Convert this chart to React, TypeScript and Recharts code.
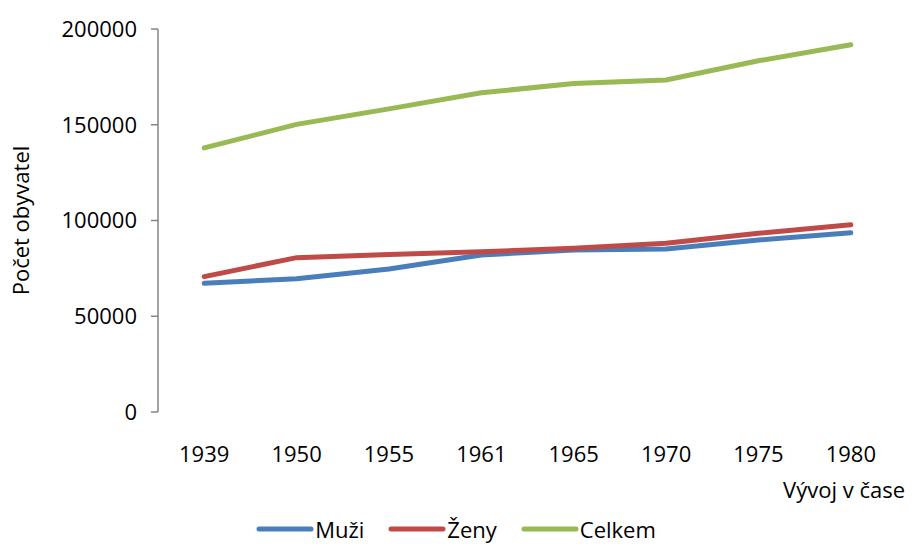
import React from 'react';
import { LineChart, Line, XAxis, YAxis, Legend } from 'recharts';

const years = ['1939', '1950', '1955', '1961', '1965', '1970', '1975', '1980'];
const muzi = [67200, 69600, 74700, 82000, 84600, 85100, 89800, 93600];
const zeny = [70700, 80600, 82300, 83700, 85500, 88100, 93300, 97800];
const celkem = [137900, 150200, 158300, 166700, 171500, 173400, 183400, 191800];

const yTicks = [0, 50000, 100000, 150000, 200000];

const SERIES = [
    { key: 'muzi', name: 'Muži', color: '#4a7ebb' },
    { key: 'zeny', name: 'Ženy', color: '#be4b48' },
    { key: 'celkem', name: 'Celkem', color: '#98b954' },
];

const FONT = '"Open Sans", sans-serif';
const FONT_SIZE = 22;
const AXIS_COLOR = '#868686';

// x sits in the middle of each category slot so tick lines land on the boundaries
const data = years.map((year, i) => ({
    x: i + 0.5,
    year,
    muzi: muzi[i],
    zeny: zeny[i],
    celkem: celkem[i],
}));

const boundaryTicks = years.map((_, i) => i).concat(years.length);
const centerTicks = years.map((_, i) => i + 0.5);

function LegendContent() {
    return (
        <div style={{ display: 'flex', justifyContent: 'center', alignItems: 'center', height: 26, lineHeight: '26px', fontFamily: FONT, fontSize: FONT_SIZE, color: '#000', paddingLeft: 22 }}>
            {SERIES.map((s) => (
                <div key={s.key} style={{ display: 'flex', alignItems: 'center', marginRight: 24 }}>
                    <svg width={58} height={10}>
                        <line x1={3} y1={5} x2={55} y2={5} stroke={s.color} strokeWidth={5} strokeLinecap="round" />
                    </svg>
                    <span style={{ marginLeft: 1 }}>{s.name}</span>
                </div>
            ))}
        </div>
    );
}

export default function App() {
    // pulled left over the body margin so the rotated axis title has room
    return (
        <div style={{ width: 914, height: 538, marginLeft: -8 }}>
            <LineChart width={914} height={538} data={data} margin={{ top: 21, right: 17, left: 0, bottom: 8 }}>
                {/* tick lines on category boundaries */}
                <XAxis
                    xAxisId="grid"
                    dataKey="x"
                    type="number"
                    domain={[0, years.length]}
                    ticks={boundaryTicks}
                    tick={false}
                    height={0}
                    tickSize={7}
                    stroke={AXIS_COLOR}
                    axisLine={{ stroke: AXIS_COLOR, strokeWidth: 1.5 }}
                    tickLine={{ stroke: AXIS_COLOR, strokeWidth: 1.5 }}
                />
                {/* year labels in the middle of each slot */}
                <XAxis
                    xAxisId="years"
                    dataKey="x"
                    type="number"
                    domain={[0, years.length]}
                    ticks={centerTicks}
                    tickFormatter={(v: number) => years[Math.round(v - 0.5)]}
                    height={100}
                    axisLine={false}
                    tickLine={false}
                    tickSize={0}
                    tickMargin={34}
                    tick={{ fill: '#000', fontSize: FONT_SIZE, fontFamily: FONT }}
                    label={{
                        content: (props: any) => {
                            const vb = props.viewBox || {};
                            return (
                                <text x={vb.x + vb.width + 8} y={86 + vb.y} textAnchor="end" fill="#000" fontSize={FONT_SIZE} fontFamily={FONT}>
                                    Vývoj v čase
                                </text>
                            );
                        },
                    }}
                />
                <YAxis
                    domain={[0, 200000]}
                    ticks={yTicks}
                    width={158}
                    tickSize={7}
                    tickMargin={14}
                    stroke={AXIS_COLOR}
                    axisLine={{ stroke: AXIS_COLOR, strokeWidth: 1.5 }}
                    tickLine={{ stroke: AXIS_COLOR, strokeWidth: 1.5 }}
                    tick={{ fill: '#000', fontSize: FONT_SIZE, fontFamily: FONT }}
                    label={{
                        value: 'Počet obyvatel',
                        angle: -90,
                        position: 'insideLeft',
                        offset: 21,
                        style: { textAnchor: 'middle', fill: '#000', fontSize: FONT_SIZE, fontFamily: FONT },
                    }}
                />
                <Legend
                    verticalAlign="bottom"
                    content={() => <LegendContent />}
                    wrapperStyle={{ bottom: 4, left: 0, width: 914 }}
                />
                {SERIES.map((s) => (
                    <Line
                        key={s.key}
                        xAxisId="years"
                        dataKey={s.key}
                        name={s.name}
                        stroke={s.color}
                        strokeWidth={5}
                        dot={false}
                        strokeLinecap="round"
                        isAnimationActive={false}
                    />
                ))}
            </LineChart>
        </div>
    );
}
